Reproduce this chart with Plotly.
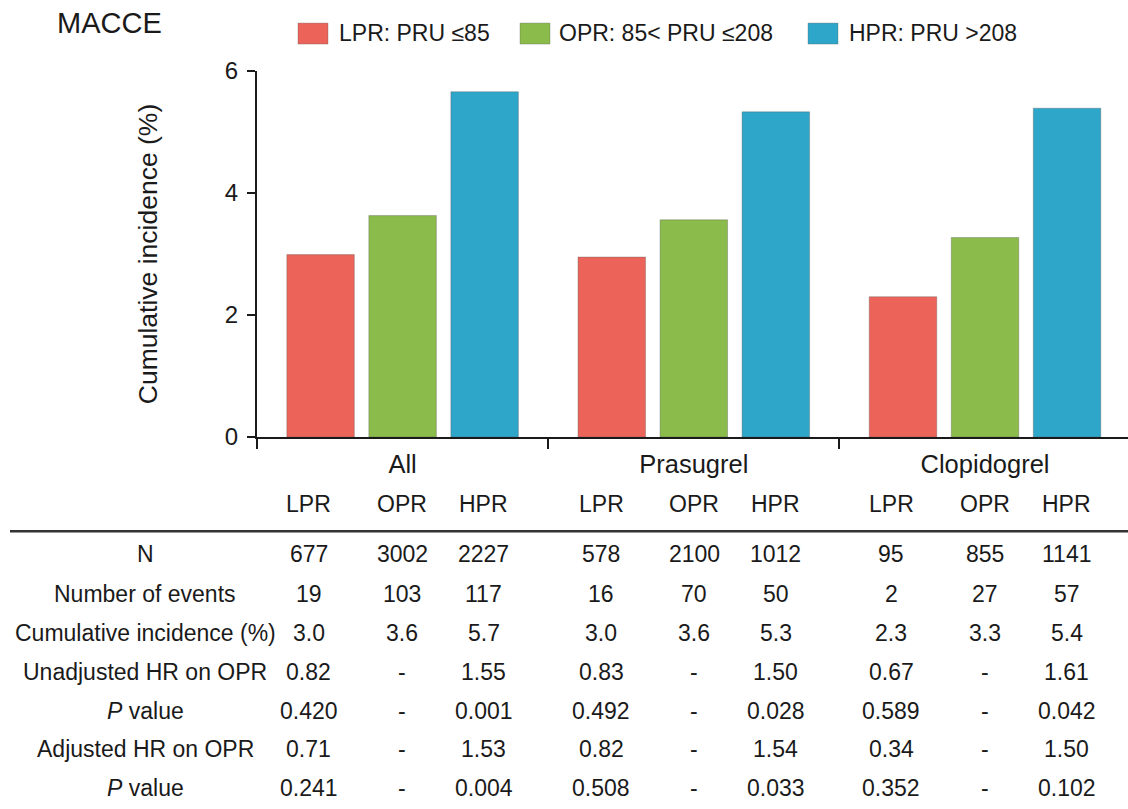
import plotly.graph_objects as go

# ---------------- data ----------------
groups = ["All", "Prasugrel", "Clopidogrel"]
series_names = ["LPR: PRU ≤85", "OPR: 85< PRU ≤208", "HPR: PRU >208"]
lpr_vals = [2.99, 2.95, 2.30]
opr_vals = [3.63, 3.56, 3.27]
hpr_vals = [5.66, 5.33, 5.39]
colors = ["#EB6359", "#8BBB4A", "#2DA6C9"]
yticks = [0, 2, 4, 6]

col_headers = ["LPR", "OPR", "HPR", "LPR", "OPR", "HPR", "LPR", "OPR", "HPR"]
row_labels = ["N", "Number of events", "Cumulative incidence (%)",
              "Unadjusted HR on OPR", "<i>P</i> value",
              "Adjusted HR on OPR", "<i>P</i> value"]
row_n = ["677", "3002", "2227", "578", "2100", "1012", "95", "855", "1141"]
row_events = ["19", "103", "117", "16", "70", "50", "2", "27", "57"]
row_cum = ["3.0", "3.6", "5.7", "3.0", "3.6", "5.3", "2.3", "3.3", "5.4"]
row_unadj = ["0.82", "-", "1.55", "0.83", "-", "1.50", "0.67", "-", "1.61"]
row_p1 = ["0.420", "-", "0.001", "0.492", "-", "0.028", "0.589", "-", "0.042"]
row_adj = ["0.71", "-", "1.53", "0.82", "-", "1.54", "0.34", "-", "1.50"]
row_p2 = ["0.241", "-", "0.004", "0.508", "-", "0.033", "0.352", "-", "0.102"]
table_rows = [row_n, row_events, row_cum, row_unadj, row_p1, row_adj, row_p2]

# ---------------- layout geometry (pixels) ----------------
W, H = 1128, 809
L, R, T, B = 257, 1128, 71, 437.5
FONT = "Liberation Sans, Arial, sans-serif"
TXT = "#1a1a1a"

def px(x):
    return (x - L) / (R - L)

def py(y):
    return (B - y) / (B - T)

col_x = [308.5, 402, 483.5, 601, 694, 775.5, 891, 985, 1066.6]
header_y = 505
row_y = [555, 594.5, 633.5, 672.5, 711.5, 750, 788.5]
label_x = 145

fig = go.Figure()
for name, vals, c in zip(series_names, [lpr_vals, opr_vals, hpr_vals], colors):
    fig.add_trace(go.Bar(x=groups, y=vals, name=name,
                         marker=dict(color=c, line=dict(color="rgba(90,90,90,0.45)", width=0.8)),
                         showlegend=False, hoverinfo="x+y+name"))

annotations = []
shapes = []

# title
annotations.append(dict(text="MACCE", x=px(55), y=py(23), xref="paper", yref="paper",
                        xanchor="left", yanchor="middle", showarrow=False,
                        font=dict(family=FONT, size=29, color=TXT)))

# manual legend (large swatches)
leg_items = [(298, 328, 337), (520, 550, 557), (808, 838, 847)]
for (x0, x1, tx), name, c in zip(leg_items, series_names, colors):
    shapes.append(dict(type="rect", xref="paper", yref="paper",
                       x0=px(x0), x1=px(x1), y0=py(44), y1=py(23),
                       fillcolor=c, line=dict(color="rgba(90,90,90,0.4)", width=0.8)))
    annotations.append(dict(text=name, x=px(tx), y=py(33), xref="paper", yref="paper",
                            xanchor="left", yanchor="middle", showarrow=False,
                            font=dict(family=FONT, size=23, color=TXT)))

# table header
for x, h in zip(col_x, col_headers):
    annotations.append(dict(text=h, x=px(x), y=py(header_y), xref="paper", yref="paper",
                            xanchor="center", yanchor="middle", showarrow=False,
                            font=dict(family=FONT, size=23, color=TXT)))
# separator line
shapes.append(dict(type="line", xref="paper", yref="paper",
                   x0=px(10), x1=px(1128), y0=py(532), y1=py(532),
                   line=dict(color="#333333", width=2.5)))
# table body
for ry, lab, vals in zip(row_y, row_labels, table_rows):
    annotations.append(dict(text=lab, x=px(label_x), y=py(ry), xref="paper", yref="paper",
                            xanchor="center", yanchor="middle", showarrow=False,
                            font=dict(family=FONT, size=23, color=TXT)))
    for x, v in zip(col_x, vals):
        annotations.append(dict(text=v, x=px(x), y=py(ry), xref="paper", yref="paper",
                                xanchor="center", yanchor="middle", showarrow=False,
                                font=dict(family=FONT, size=23, color=TXT)))

fig.update_layout(
    width=W, height=H,
    margin=dict(l=L, r=W - R, t=T, b=H - B, pad=0),
    paper_bgcolor="white", plot_bgcolor="white",
    barmode="group", bargap=0.155, bargroupgap=0.177,
    font=dict(family=FONT, color=TXT),
    annotations=annotations, shapes=shapes,
    xaxis=dict(type="category", range=[-0.5, 2.491], tickson="boundaries",
               ticks="outside", ticklen=10, tickwidth=2, tickcolor="#1a1a1a",
               showline=True, linewidth=2, linecolor="#1a1a1a",
               showgrid=False, zeroline=False, ticklabelstandoff=3,
               tickfont=dict(family=FONT, size=25.5, color=TXT)),
    yaxis=dict(range=[0, 6], tickvals=yticks, ticks="outside", ticklen=8, tickwidth=2,
               tickcolor="#1a1a1a", showline=True, linewidth=2, linecolor="#1a1a1a",
               showgrid=False, zeroline=False, ticklabelstandoff=4,
               tickfont=dict(family=FONT, size=24, color=TXT),
               title=dict(text="Cumulative incidence (%)", standoff=60,
                          font=dict(family=FONT, size=26.5, color=TXT))),
)

fig.write_html("out.html")
